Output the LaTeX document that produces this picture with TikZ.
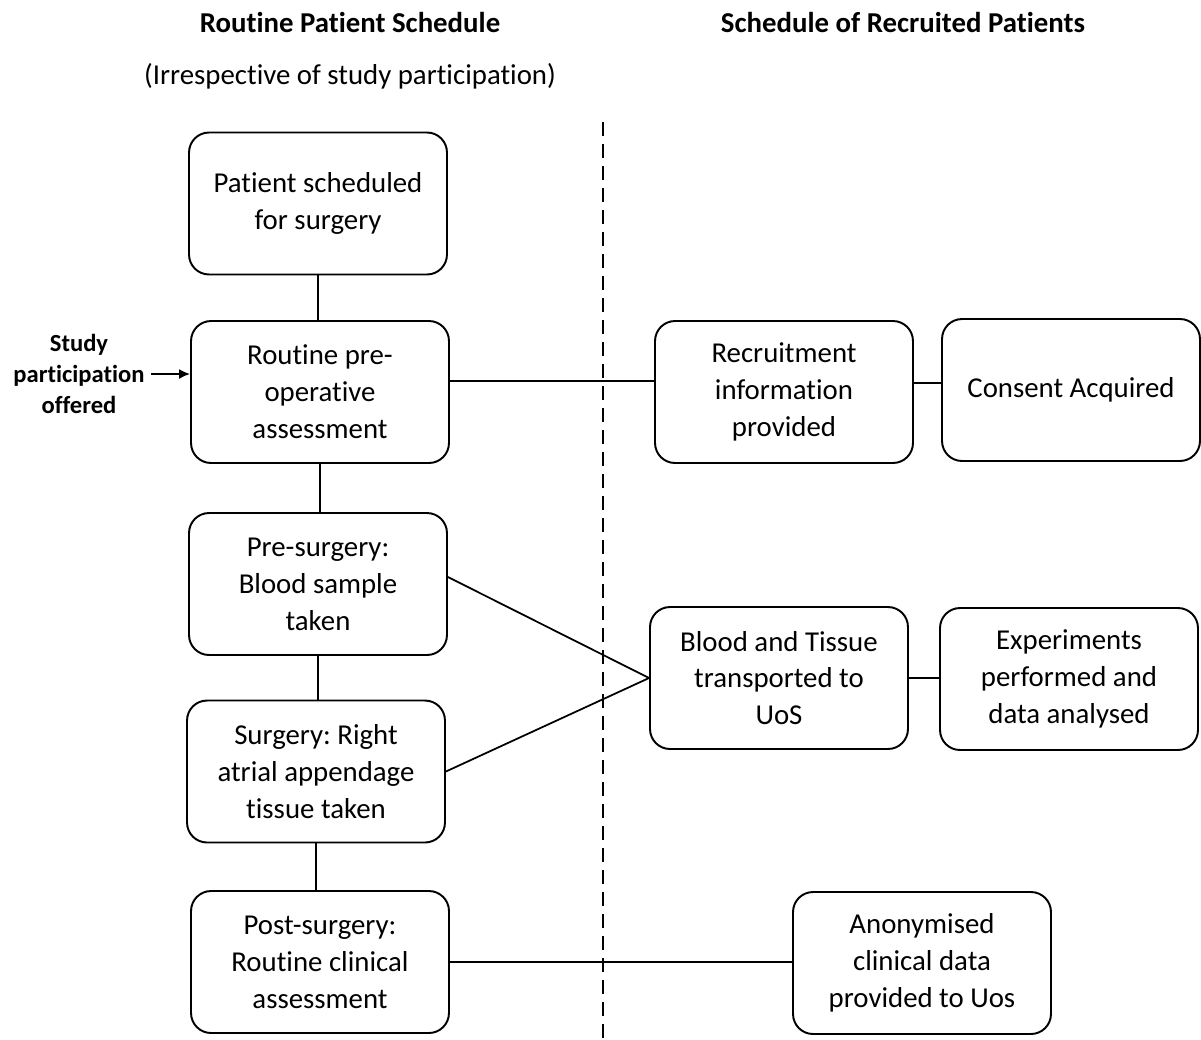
\documentclass[tikz,border=0pt]{standalone}
\usepackage{fontspec}
\setmainfont{Carlito}[Ligatures=NoCommon]
\usetikzlibrary{positioning,arrows.meta}
\frenchspacing

\begin{document}
\begin{tikzpicture}[x=0.02cm,y=-0.02cm,
		boxnode/.style={draw,line width=1.1pt,rounded corners=0.4cm,minimum width=5.16cm,minimum height=2.84cm,align=center,font=\fontsize{16.4}{21}\selectfont},
		headnode/.style={font=\fontsize{16.4}{20}\selectfont\bfseries},
		sidenode/.style={align=center,font=\fontsize{14}{17.6}\selectfont\bfseries},
		link/.style={line width=1pt}]
		\useasboundingbox (0,0) rectangle (1201,1039);

		\node[headnode]								(head1)		at (350,22)		{Routine Patient Schedule};
		\node[font=\fontsize{16.4}{20}\selectfont]	(head2)		at (350,76)		{(Irrespective of study participation)};
		\node[headnode]								(head3)		at (903,22)		{Schedule of Recruited Patients};

		\node[boxnode]		(sched)		at (318,203.5)	{Patient scheduled\\for surgery};
		\node[boxnode]		(preop)		at (320,392)	{Routine pre-\\operative\\assessment};
		\node[boxnode]		(blood)		at (318,584)	{Pre-surgery:\\Blood sample\\taken};
		\node[boxnode]		(surg)		at (316,771.5)	{Surgery: Right\\atrial appendage\\tissue taken};
		\node[boxnode]		(post)		at (320,962)	{Post-surgery:\\Routine clinical\\assessment};
		\node[boxnode]		(recruit)	at (784,392)	{Recruitment\\information\\provided};
		\node[boxnode]		(consent)	at (1071,390)	{Consent Acquired};
		\node[boxnode]		(transp)	at (779,678)	{Blood and Tissue\\transported to\\UoS};
		\node[boxnode]		(exper)		at (1069,679)	{Experiments\\performed and\\data analysed};
		\node[boxnode]		(anon)		at (922,963)	{Anonymised\\clinical data\\provided to Uos};

		\node[sidenode]		(offer)		at (79,374)		{Study\\participation\\offered};

		\coordinate (dtop) at (603,122);
		\coordinate (dbot) at (603,1039);
		\draw[link,dash pattern=on 0.28cm off 0.16cm] (dtop) -- (dbot);

		\draw[link] (sched.south) -- (sched.south |- preop.north);
		\draw[link] (blood.north -| preop.south) -- (preop.south);
		\draw[link] (blood.south) -- (blood.south |- surg.north);
		\draw[link] (surg.south) -- (surg.south |- post.north);
		\draw[link] ([yshift=0.22cm]preop.east) -- ([yshift=0.22cm]preop.east -| recruit.west);
		\draw[link] ([yshift=0.14cm]consent.west -| recruit.east) -- ([yshift=0.14cm]consent.west);
		\draw[link] ([yshift=0.14cm]blood.east) -- (transp.west);
		\draw[link] (surg.east) -- (transp.west);
		\draw[link] (transp.east) -- (transp.east -| exper.west);
		\draw[link] (post.east) -- (post.east -| anon.west);
		\draw[link,-{Latex[length=2.2mm,width=2mm]}] (offer.east) -- (offer.east -| preop.west);
	\end{tikzpicture}
\end{document}
